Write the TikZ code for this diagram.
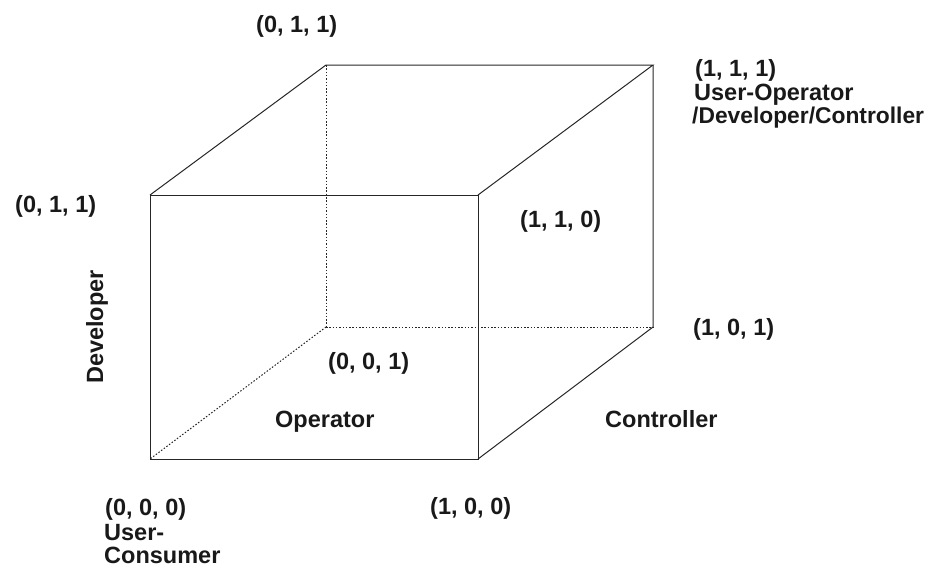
\documentclass[tikz,border=0pt]{standalone}
\usepackage{fontspec}
\setmainfont{Liberation Sans}
\begin{document}
\begin{tikzpicture}[x=1pt,y=-1pt,
  edge/.style={line width=1pt, black!85},
  hidden/.style={line width=1pt, black!85, dash pattern=on 1.5pt off 1.8pt},
  lbl/.style={inner sep=0pt, anchor=base west, font=\fontsize{23.5}{24}\selectfont\bfseries, text=black!90, align=left}]
\useasboundingbox (0,0) rectangle (933,568);
% cube corners
\coordinate (ftl) at (150,195);
\coordinate (ftr) at (478,195);
\coordinate (fbl) at (150,459);
\coordinate (fbr) at (478,459);
\coordinate (btl) at (326,65);
\coordinate (btr) at (653,65);
\coordinate (bbl) at (326,327);
\coordinate (bbr) at (653,327);
% visible edges
\draw[edge] (ftl) -- (ftr) -- (fbr) -- (fbl) -- cycle;
\draw[edge] (ftl) -- (btl) -- (btr) -- (ftr);
\draw[edge] (btr) -- (bbr) -- (fbr);
% hidden edges
\draw[hidden] (btl) -- (bbl);
\draw[hidden] (bbl) -- (bbr);
\draw[hidden] (bbl) -- (fbl);
% labels
\node[lbl] (l011t) at (256,32) {(0, 1, 1)};
\node[lbl] (l111a) at (695,76) {(1, 1, 1)};
\node[lbl] (l111b) at (694,100) {User-Operator};
\node[lbl, font=\fontsize{22.8}{24}\selectfont\bfseries] (l111c) at (692,123) {/Developer/Controller};
\node[lbl] (l011l) at (15,212) {(0, 1, 1)};
\node[lbl] (l110) at (520,227) {(1, 1, 0)};
\node[lbl] (l101) at (693,335) {(1, 0, 1)};
\node[lbl] (l001) at (328,369) {(0, 0, 1)};
\node[lbl] (lop) at (275,427) {Operator};
\node[lbl] (lctl) at (605,427) {Controller};
\node[lbl] (l100) at (430,514) {(1, 0, 0)};
\node[lbl] (l000a) at (105,515) {(0, 0, 0)};
\node[lbl] (l000b) at (104,540) {User-};
\node[lbl] (l000c) at (104,563) {Consumer};
\node[lbl, anchor=base, rotate=90] (ldev) at (103,327) {Developer};
\end{tikzpicture}
\end{document}
